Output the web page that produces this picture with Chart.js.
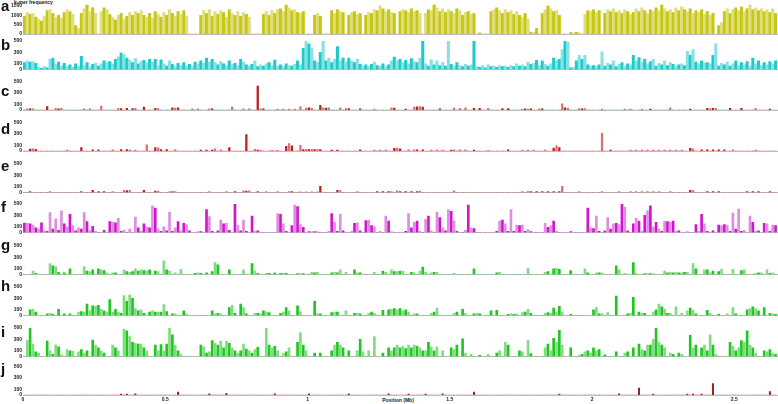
<!DOCTYPE html>
<html>
<head>
<meta charset="utf-8">
<script src="https://cdn.jsdelivr.net/npm/chart.js@4.4.1/dist/chart.umd.min.js"></script>
<style>
  html, body { margin: 0; padding: 0; background: #fff; }
  #wrap { position: relative; width: 778px; height: 404px; overflow: hidden; font-family: 'Liberation Sans', Arial, sans-serif; }
  #wrap canvas { position: absolute; left: 0; }
  .tag { position: absolute; left: 1px; font-size: 15px; font-weight: bold; line-height: 15px; color: #111; }
  .note { position: absolute; font-size: 5px; font-weight: bold; line-height: 5px; color: #222; white-space: nowrap; }
</style>
</head>
<body>
<div id="wrap">
  <div class="note" style="left:14px; top:0px;">k-mer frequency</div>
  <div class="note" style="left:398px; top:397.5px; transform:translateX(-50%);">Position (Mb)</div>
</div>
<script>
// bins of 0.01 Mb along the genome, starting at 0
const binStart = 0;
const binWidth = 0.01;
const genomeEnd = 2.65;

const xTicks = [0, 0.5, 1, 1.5, 2, 2.5];
const ticksA = [0, 500, 1000, 1500];
const ticksLow = [0, 100, 300, 500];

const freqA = [
  950,1150,1050,1100,900,800,700,950,1250,1300,
  1100,900,1000,850,1150,1300,1200,1050,450,300,
  1100,1350,1550,1200,1400,1100,0,1200,1400,1300,
  1050,900,750,1000,1100,800,950,1150,1000,1200,
  1100,1250,1000,900,1100,850,1200,1050,900,1150,
  1000,1300,1100,950,1200,1050,1250,950,0,0,
  0,0,1000,1250,1100,1300,950,1200,1050,1250,
  1150,900,1300,1100,1000,1200,950,1150,1050,900,
  0,0,0,0,1050,1200,1000,1250,1100,1300,
  1350,1200,1550,1400,1250,1300,1150,1100,1200,0,
  0,0,1000,1100,950,0,0,0,1250,1100,
  1300,1200,1150,0,1000,1150,1200,1050,1100,0,
  1000,1150,1100,1300,1250,1500,1350,1200,1300,1150,
  1100,0,1200,1300,1250,1150,1350,1200,1250,1100,
  0,1100,1300,1250,1550,1400,1200,1350,1150,1300,
  1200,1100,1350,1250,1000,1150,1200,1050,1100,0,
  60,0,0,0,1200,1300,1400,1250,1100,1300,
  1150,1250,1050,1200,1000,900,1100,800,100,80,
  300,0,1100,1300,1500,1350,1200,1250,1000,0,
  0,0,80,60,90,70,0,1050,1250,1200,
  1300,1150,1250,0,1100,1300,1200,1350,1150,1250,
  1100,1300,1200,1050,1150,1350,1200,1400,1250,1100,
  1300,1200,1400,1250,1550,1350,1200,1300,1150,1400,
  1250,1450,1300,1200,1350,1100,1250,1150,1300,1050,
  1200,1000,1100,0,450,600,1200,1350,1100,1300,
  1400,1250,1450,1200,1350,1550,1300,1400,1250,1350,
  1200,1300,1150,1350,1100
];

const freqB = [
  120,150,130,140,110,40,20,50,30,180,
  200,90,130,60,110,50,80,40,100,60,
  230,70,120,50,90,110,60,100,150,120,
  140,100,180,220,290,260,200,160,120,190,
  100,140,160,120,180,130,180,70,170,100,
  60,150,90,50,110,70,120,60,90,50,
  130,100,150,110,200,130,180,120,80,140,
  100,60,150,90,110,70,180,130,80,60,
  90,150,50,80,60,100,120,70,165,60,
  80,50,100,70,60,90,150,80,370,500,
  450,380,150,120,300,500,150,200,120,180,
  400,150,200,130,200,150,120,180,90,60,
  80,50,90,130,70,60,100,50,80,150,
  220,150,180,120,160,100,190,140,120,200,
  500,100,60,170,80,150,70,120,60,500,
  90,60,120,70,50,90,60,80,500,50,
  40,70,30,80,50,60,40,70,50,60,
  40,70,50,100,60,80,50,130,90,110,
  160,70,150,90,60,100,200,150,180,350,
  500,480,30,40,150,250,180,250,80,60,
  70,50,80,310,60,110,80,150,50,90,
  120,60,100,80,250,150,210,120,180,100,
  140,180,60,110,80,150,70,120,90,60,
  80,100,70,320,250,350,130,100,150,110,
  120,100,250,450,60,110,80,130,60,100,
  150,70,120,80,140,60,200,100,150,70,
  120,80,140,100,150
];

const freqC = [
  0,20,20,20,0,0,0,0,60,0,
  0,30,20,30,0,0,0,0,0,0,
  0,20,0,20,0,0,0,70,0,0,
  0,0,0,30,25,0,30,0,25,30,
  0,0,50,0,0,0,30,25,0,0,
  0,0,40,35,40,0,0,0,0,20,
  0,20,0,0,0,20,20,0,0,0,
  0,0,0,50,0,0,0,20,0,20,
  0,0,420,20,20,0,0,0,0,15,
  0,15,0,15,0,15,0,60,0,35,
  40,30,0,0,80,40,35,40,0,0,
  0,40,0,25,25,0,0,0,20,0,
  0,0,0,15,0,0,0,0,0,40,
  35,0,0,0,15,0,0,50,55,60,
  50,0,0,0,0,0,20,0,0,0,
  0,35,0,30,0,40,0,0,30,0,
  30,0,0,30,0,0,0,0,25,0,
  25,0,0,0,0,15,20,15,20,0,
  0,20,20,0,0,0,0,0,0,110,
  40,35,0,0,0,25,20,25,0,0,
  0,0,0,15,0,0,0,0,0,0,
  0,15,0,15,0,0,0,15,0,0,
  15,0,0,0,0,0,0,40,0,0,
  0,0,0,0,15,0,0,0,0,0,
  30,25,30,30,0,0,0,0,30,0,
  0,0,30,0,0,0,0,30,0,0,
  0,0,15,0,0
];

const freqD = [
  0,0,35,40,30,0,0,0,0,0,
  0,0,0,0,0,15,0,0,0,0,
  60,0,0,0,20,0,20,0,0,0,
  0,20,0,0,25,0,25,20,0,15,
  0,0,0,110,0,0,60,55,25,0,
  25,0,0,25,0,0,0,0,0,0,
  0,0,15,0,15,0,15,40,0,20,
  0,0,60,0,0,0,0,0,290,0,
  0,30,15,15,0,0,0,10,0,10,
  0,0,80,130,90,0,0,100,25,30,
  25,30,25,30,25,0,0,0,15,0,
  15,0,0,0,0,0,0,0,20,0,
  0,0,0,15,0,15,0,15,0,0,
  45,50,40,0,0,20,0,20,20,0,
  20,0,0,15,0,15,0,15,0,0,
  15,20,0,20,0,20,0,0,15,0,
  0,0,0,10,0,0,0,0,0,0,
  20,0,0,0,0,15,0,15,0,15,
  0,0,0,15,0,0,50,90,60,0,
  0,0,0,0,0,0,0,0,0,0,
  0,0,0,310,0,0,15,0,0,0,
  0,0,0,15,0,15,0,15,0,15,
  0,15,0,15,0,15,0,15,0,15,
  0,15,0,0,45,40,0,0,20,0,
  20,0,20,0,20,0,20,0,0,20,
  0,0,0,0,0,0,0,15,0,0,
  0,0,0,0,0
];

const freqE = [
  0,0,15,0,0,0,0,0,0,15,
  0,0,0,0,0,0,0,0,0,0,
  15,0,0,0,40,0,15,0,15,0,
  0,15,0,0,0,40,35,40,0,0,
  0,0,40,0,0,0,25,25,0,0,
  0,15,15,15,0,0,0,0,0,0,
  0,0,0,0,0,15,0,0,0,0,
  0,15,0,0,15,0,0,30,25,30,
  0,0,15,0,0,15,0,0,0,15,
  0,0,0,15,15,0,0,10,0,10,
  0,10,0,10,110,0,0,0,0,0,
  40,35,0,0,0,0,0,15,0,0,
  0,0,0,0,15,0,15,0,15,15,
  0,30,15,0,15,0,15,0,15,25,
  0,0,0,0,0,0,0,0,0,0,
  0,30,0,0,0,0,0,0,0,0,
  0,0,0,0,0,0,0,0,0,0,
  0,0,0,0,0,15,0,20,15,0,
  15,0,15,0,15,0,15,0,15,110,
  0,0,0,0,0,15,0,0,0,0,
  0,0,0,15,0,0,0,0,0,15,
  0,0,0,15,0,15,0,15,0,15,
  0,15,0,15,0,0,0,15,0,0,
  0,0,0,0,40,35,0,0,0,0,
  15,0,15,0,15,0,0,0,0,0,
  0,0,0,0,15,0,15,0,15,0,
  0,0,15,0,0
];

const freqF = [
  165,160,150,130,80,60,170,30,20,350,
  60,240,40,380,150,100,320,120,30,80,
  60,350,190,40,110,20,0,0,40,0,
  190,180,170,250,20,40,0,60,0,270,
  80,20,150,100,80,470,430,60,20,100,
  30,360,20,80,190,30,160,140,30,0,
  0,15,15,0,400,280,20,0,30,220,
  150,160,40,0,500,130,30,220,20,0,
  290,20,30,0,0,0,0,0,0,330,
  320,150,20,0,120,480,455,140,90,0,
  15,15,15,15,0,0,0,20,330,180,
  20,320,30,0,0,20,160,170,30,0,
  210,220,120,100,0,20,0,290,200,15,
  0,0,0,0,20,330,80,180,200,20,
  0,230,290,30,0,360,260,80,30,400,
  370,200,20,0,0,40,480,80,70,0,
  0,0,0,0,0,0,20,200,220,150,
  20,400,20,130,120,130,20,50,15,0,
  0,0,0,160,90,120,200,20,0,0,
  0,0,15,0,0,0,0,0,430,80,
  70,290,20,0,30,260,60,150,160,140,
  520,440,30,0,150,250,200,20,300,380,
  470,100,180,60,20,200,190,180,200,20,
  30,0,0,15,0,0,140,20,320,150,
  20,0,30,0,130,120,140,130,20,340,
  60,410,20,40,0,290,180,20,30,0,
  160,150,20,130,120
];

const freqG = [
  0,0,0,60,20,0,0,0,0,190,
  150,140,40,0,30,0,100,0,0,0,
  0,140,60,50,80,0,100,80,70,30,
  0,30,30,0,0,80,50,40,50,100,
  60,80,70,60,80,0,60,50,0,240,
  80,60,0,30,0,90,0,0,0,0,
  20,30,20,0,30,0,50,210,170,0,
  0,0,80,0,0,0,0,80,0,0,
  190,60,20,0,0,20,20,0,30,0,
  20,20,20,0,0,0,15,15,15,0,
  0,40,30,40,0,0,0,0,30,40,
  30,80,0,40,0,0,80,30,30,0,
  0,0,0,40,0,0,60,40,0,80,
  50,50,60,60,0,0,40,30,0,60,
  130,40,0,30,40,40,0,0,0,0,
  0,20,0,0,0,0,0,0,100,0,
  0,0,0,0,0,0,30,40,0,0,
  0,0,0,0,0,0,0,110,0,0,
  0,0,0,40,50,0,100,110,90,0,
  0,0,70,0,0,0,0,100,30,0,
  0,30,30,30,0,0,0,0,150,80,
  0,20,0,0,210,20,0,0,15,15,
  15,15,0,0,0,60,30,40,30,40,
  30,30,40,40,0,190,100,0,0,80,
  80,30,60,0,50,90,0,0,0,90,
  0,0,70,80,0,0,0,20,30,30,
  0,80,20,30,0
];

const freqH = [
  0,0,100,110,60,0,0,0,30,40,
  20,0,110,0,30,0,30,0,0,60,
  70,60,200,80,170,160,180,110,80,60,
  280,60,110,60,40,350,250,360,300,120,
  80,100,40,0,60,80,60,60,60,190,
  70,0,30,30,0,0,80,30,0,0,
  0,0,0,0,0,0,80,30,40,30,
  0,0,140,180,40,0,200,140,30,0,
  0,40,40,20,80,60,50,0,0,0,
  40,60,140,80,0,0,170,70,0,0,
  0,0,250,30,30,0,0,0,50,60,
  60,0,0,80,0,0,40,40,30,0,
  0,40,60,40,0,0,90,0,100,110,
  120,100,120,80,100,60,0,30,30,0,
  0,0,0,40,60,130,0,0,0,0,
  0,40,60,0,110,40,0,0,30,40,
  30,0,0,0,80,0,90,0,0,0,
  20,30,20,30,0,50,60,110,40,0,
  0,0,0,40,50,40,130,60,160,60,
  0,0,20,0,0,0,0,0,0,0,
  100,140,30,30,0,50,0,0,340,0,
  0,0,30,40,320,0,60,40,40,0,
  0,60,100,200,150,110,40,40,0,150,
  0,40,0,80,130,90,30,0,0,0,
  90,40,0,0,20,0,0,30,0,140,
  30,0,0,0,100,120,150,120,80,0,
  140,0,40,30,20
];

const freqI = [
  0,280,520,220,80,60,0,0,270,100,
  40,200,170,30,0,120,100,90,0,80,
  120,60,100,0,290,200,150,100,60,0,
  0,200,150,100,0,480,450,350,250,230,
  220,220,150,100,0,0,200,100,210,100,
  220,520,380,200,100,40,0,0,0,0,
  0,0,200,170,60,80,280,230,200,270,
  150,270,230,150,100,60,100,220,130,100,
  60,120,160,0,0,500,200,150,180,100,
  0,50,80,150,0,0,250,420,200,100,
  0,0,60,0,60,0,0,0,100,200,
  250,200,150,0,100,0,0,100,300,80,
  0,100,0,350,0,0,60,0,150,100,
  150,200,150,180,140,200,150,200,180,150,
  100,100,250,170,100,170,0,100,0,0,
  150,120,200,0,310,60,0,40,0,0,
  20,0,0,40,0,0,60,100,0,250,
  200,0,0,0,100,80,0,280,50,0,
  0,0,0,150,220,100,320,250,460,200,
  0,0,150,0,0,20,40,80,100,60,
  150,100,120,0,30,0,0,0,80,0,
  0,60,80,0,150,0,220,120,100,200,
  200,300,500,250,200,150,0,60,40,0,
  60,40,0,0,370,150,200,0,150,200,
  100,380,200,40,0,0,0,0,250,180,
  100,150,280,250,450,200,150,60,0,0,
  100,80,120,60,40
];

const freqJ = [
  0,0,0,0,0,0,0,0,0,0,
  0,0,0,0,0,0,0,0,0,0,
  0,0,0,0,0,0,0,0,0,0,
  0,0,0,0,15,0,15,0,0,20,
  0,0,0,0,0,0,0,0,0,0,
  0,0,0,0,50,0,0,0,0,0,
  0,0,0,0,0,20,0,0,0,0,
  0,30,0,0,0,0,0,0,0,0,
  0,0,0,0,0,0,0,0,20,0,
  0,0,0,0,0,0,0,0,0,0,
  20,0,0,0,0,0,0,0,0,0,
  0,0,0,0,20,0,0,0,0,0,
  0,0,0,0,0,0,0,0,20,0,
  0,0,0,0,0,15,0,0,0,0,
  0,15,0,0,0,0,0,20,0,0,
  0,0,0,0,0,0,0,0,50,0,
  0,0,0,0,0,0,0,0,0,0,
  0,0,0,0,0,0,0,0,0,0,
  0,0,0,0,0,0,0,0,15,0,
  0,0,0,0,0,0,0,0,0,0,
  0,0,0,0,0,0,0,0,0,20,
  0,0,0,0,0,0,120,0,0,0,
  0,15,0,0,0,0,0,0,0,0,
  0,0,0,15,0,15,0,0,15,0,
  0,0,200,0,0,0,0,0,0,0,
  0,0,0,0,0,0,0,0,0,0,
  0,0,60,0,0
];

// panel layout: pixel of the zero line, plot height in px, label top
const panels = [
  { tag: 'a', values: freqA, ticks: ticksA, max: 1600, zero: 34,    plotH: 29.9, tagTop: -2,    dark: '#c6c614', light: '#dede7a', bar: 2.4 },
  { tag: 'b', values: freqB, ticks: ticksLow, max: 500, zero: 69.5,  plotH: 28.5, tagTop: 37.3,  dark: '#1ccccc', light: '#86e2e2', bar: 2.4 },
  { tag: 'c', values: freqC, ticks: ticksLow, max: 500, zero: 110,   plotH: 28.5, tagTop: 83,    dark: '#c41c1c', light: '#dc7070', bar: 1.6 },
  { tag: 'd', values: freqD, ticks: ticksLow, max: 500, zero: 151,   plotH: 28.5, tagTop: 121.3, dark: '#c41c1c', light: '#dc7070', bar: 1.6 },
  { tag: 'e', values: freqE, ticks: ticksLow, max: 500, zero: 192.5, plotH: 28.5, tagTop: 158.3, dark: '#c41c1c', light: '#dc7070', bar: 1.6 },
  { tag: 'f', values: freqF, ticks: ticksLow, max: 500, zero: 232.5, plotH: 28.5, tagTop: 199.3, dark: '#d214d2', light: '#e08ce0', bar: 2.0 },
  { tag: 'g', values: freqG, ticks: ticksLow, max: 500, zero: 274.5, plotH: 28.5, tagTop: 237.3, dark: '#1ec81e', light: '#80dc80', bar: 2.0 },
  { tag: 'h', values: freqH, ticks: ticksLow, max: 500, zero: 315.5, plotH: 28.5, tagTop: 278.3, dark: '#1ec81e', light: '#80dc80', bar: 2.0 },
  { tag: 'i', values: freqI, ticks: ticksLow, max: 500, zero: 356.5, plotH: 28.5, tagTop: 324.3, dark: '#1ec81e', light: '#80dc80', bar: 2.0 },
  { tag: 'j', values: freqJ, ticks: ticksLow, max: 500, zero: 395,   plotH: 28.5, tagTop: 361.3, dark: '#8f2828', light: '#8f2828', bar: 1.4 }
];

const wrap = document.getElementById('wrap');
const tickFont = { family: "'Liberation Sans', Arial, sans-serif", size: 5, weight: 'bold' };

panels.forEach((p, k) => {
  const last = k === panels.length - 1;
  const axisH = last ? 9 : 0;
  const plotTop = p.zero - p.plotH;
  const canvasTop = Math.floor(plotTop - 5);
  const padTop = plotTop - canvasTop;
  const height = Math.ceil(p.zero - canvasTop + 4 + axisH);
  const padBottom = height - (p.zero - canvasTop) - axisH;

  const canvas = document.createElement('canvas');
  canvas.width = 778;
  canvas.height = height;
  canvas.style.top = canvasTop + 'px';
  canvas.style.width = '778px';
  canvas.style.height = height + 'px';
  wrap.appendChild(canvas);

  const tag = document.createElement('div');
  tag.className = 'tag';
  tag.style.top = p.tagTop + 'px';
  tag.textContent = p.tag;
  wrap.appendChild(tag);

  const points = p.values.map((v, i) => ({ x: binStart + (i + 0.5) * binWidth, y: v }));

  new Chart(canvas.getContext('2d'), {
    type: 'bar',
    data: {
      datasets: [{
        data: points,
        backgroundColor: ctx => (ctx.dataIndex % 2 ? p.light : p.dark),
        borderWidth: 0,
        barThickness: p.bar
      }]
    },
    options: {
      responsive: false,
      animation: false,
      events: [],
      layout: { padding: { top: padTop, bottom: padBottom, left: 0, right: 1 } },
      plugins: { legend: { display: false }, tooltip: { enabled: false } },
      scales: {
        x: {
          type: 'linear',
          offset: false,
          min: 0,
          max: genomeEnd,
          grid: { display: false, drawTicks: false, offset: false },
          border: { display: true, color: '#bdbdbd', width: 1 },
          ticks: {
            display: last,
            font: tickFont,
            color: '#222',
            padding: 2,
            maxRotation: 0,
            autoSkip: false,
            callback: v => String(v)
          },
          afterBuildTicks: s => { s.ticks = xTicks.map(v => ({ value: v })); },
          afterFit: s => { s.height = axisH; }
        },
        y: {
          min: 0,
          max: p.max,
          grid: { display: false, drawTicks: false },
          border: { display: false },
          ticks: {
            font: tickFont,
            color: '#222',
            padding: 1,
            autoSkip: false,
            callback: v => String(v)
          },
          afterBuildTicks: s => { s.ticks = p.ticks.map(v => ({ value: v })); },
          afterFit: s => { s.width = 23; }
        }
      }
    }
  });
});
</script>
</body>
</html>
